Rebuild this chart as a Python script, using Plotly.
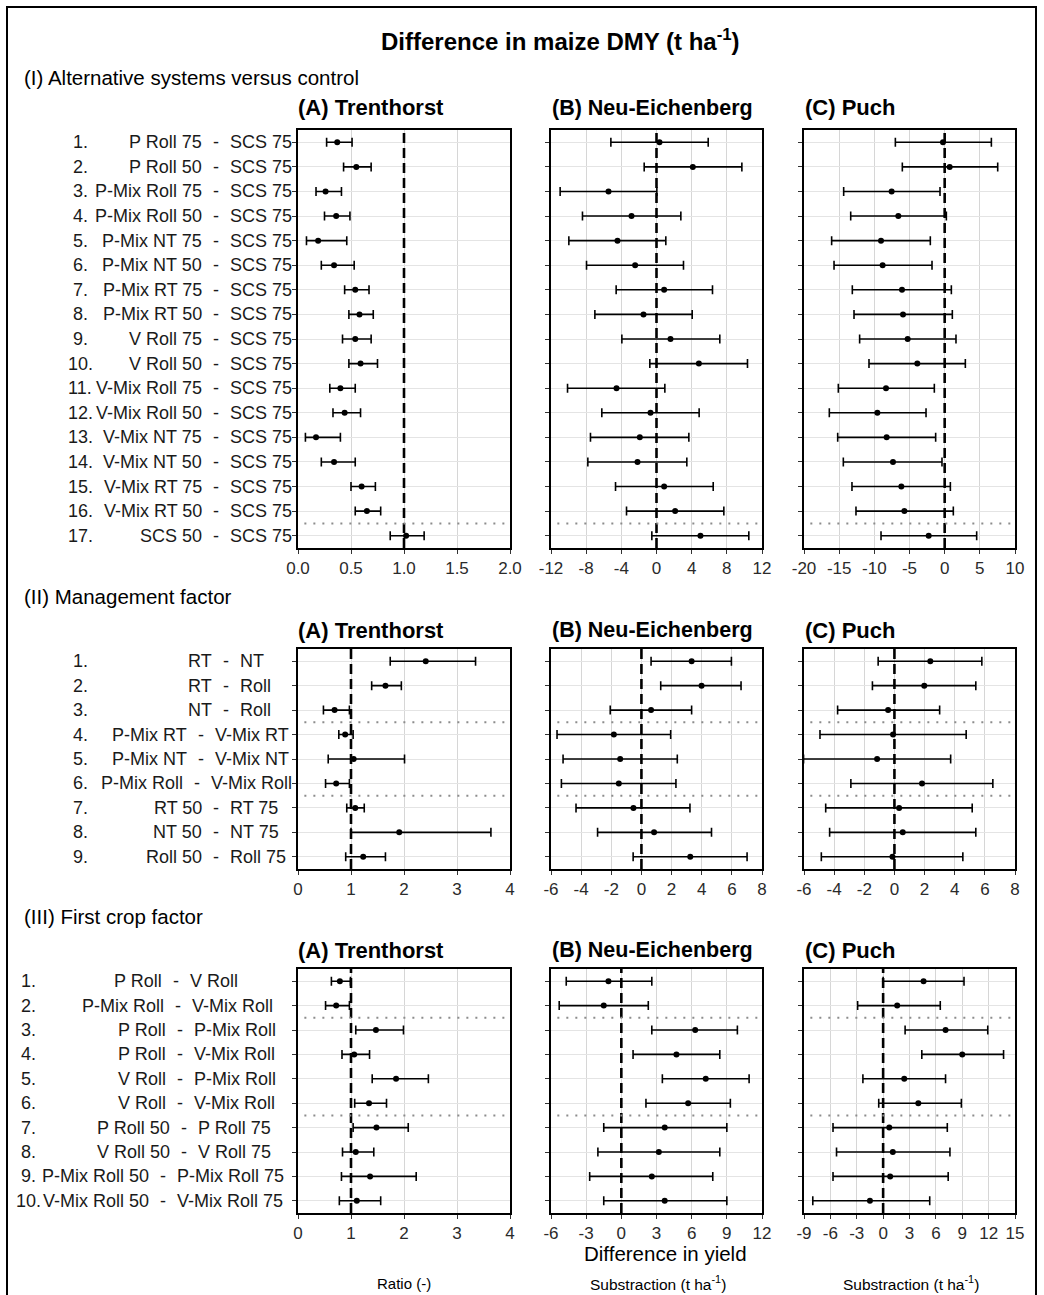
import plotly.graph_objects as go

W, H = 1044, 1295

# ---------------- data ----------------
# Section I: Alternative systems versus control
s1_left = ["P Roll 75", "P Roll 50", "P-Mix Roll 75", "P-Mix Roll 50", "P-Mix NT 75",
           "P-Mix NT 50", "P-Mix RT 75", "P-Mix RT 50", "V Roll 75", "V Roll 50",
           "V-Mix Roll 75", "V-Mix Roll 50", "V-Mix NT 75", "V-Mix NT 50", "V-Mix RT 75",
           "V-Mix RT 50", "SCS 50"]
s1_right = ["SCS 75"] * 17

IA_mean = [0.37, 0.55, 0.26, 0.36, 0.19, 0.34, 0.54, 0.58, 0.54, 0.59, 0.40, 0.44, 0.17, 0.34, 0.60, 0.65, 1.02]
IA_lo = [0.27, 0.43, 0.17, 0.25, 0.08, 0.22, 0.44, 0.48, 0.42, 0.48, 0.30, 0.33, 0.07, 0.22, 0.50, 0.54, 0.87]
IA_hi = [0.51, 0.69, 0.41, 0.49, 0.46, 0.53, 0.67, 0.71, 0.69, 0.75, 0.54, 0.59, 0.40, 0.54, 0.73, 0.78, 1.19]

IB_mean = [0.34, 4.13, -5.46, -2.84, -4.44, -2.43, 0.87, -1.48, 1.59, 4.82, -4.55, -0.68, -1.90, -2.16, 0.87, 2.12, 5.00]
IB_lo = [-5.19, -1.40, -10.96, -8.42, -9.97, -7.96, -4.59, -7.01, -3.94, -0.76, -10.12, -6.22, -7.51, -7.81, -4.66, -3.41, -0.53]
IB_hi = [5.88, 9.71, 0.04, 2.77, 1.06, 3.07, 6.37, 4.06, 7.20, 10.35, 0.95, 4.85, 3.68, 3.45, 6.45, 7.66, 10.50]

IC_mean = [-0.24, 0.71, -7.54, -6.59, -9.05, -8.82, -6.07, -5.92, -5.26, -3.89, -8.34, -9.57, -8.25, -7.35, -6.16, -5.73, -2.27]
IC_lo = [-7.01, -6.02, -14.36, -13.36, -16.07, -15.73, -13.13, -12.89, -12.09, -10.76, -15.12, -16.40, -15.21, -14.41, -13.18, -12.61, -9.05]
IC_hi = [6.64, 7.54, -0.66, 0.24, -2.04, -1.80, 0.95, 1.09, 1.61, 2.94, -1.47, -2.65, -1.28, -0.38, 0.81, 1.23, 4.55]

# Section II: Management factor
s2_left = ["RT", "RT", "NT", "P-Mix RT", "P-Mix NT", "P-Mix Roll", "RT 50", "NT 50", "Roll 50"]
s2_right = ["NT", "Roll", "Roll", "V-Mix RT", "V-Mix NT", "V-Mix Roll", "RT 75", "NT 75", "Roll 75"]

IIA_mean = [2.41, 1.65, 0.69, 0.89, 1.05, 0.72, 1.08, 1.91, 1.23]
IIA_lo = [1.74, 1.39, 0.48, 0.77, 0.57, 0.52, 0.92, 1.00, 0.90]
IIA_hi = [3.35, 1.95, 0.97, 1.04, 2.01, 0.97, 1.25, 3.64, 1.65]

IIB_mean = [3.33, 3.99, 0.64, -1.83, -1.41, -1.50, -0.53, 0.84, 3.24]
IIB_lo = [0.64, 1.28, -2.07, -5.60, -5.20, -5.31, -4.34, -2.91, -0.55]
IIB_hi = [5.97, 6.61, 3.33, 1.94, 2.38, 2.29, 3.22, 4.65, 7.01]

IIC_mean = [2.38, 1.98, -0.42, -0.09, -1.15, 1.83, 0.31, 0.55, -0.13]
IIC_lo = [-1.08, -1.46, -3.77, -4.94, -6.03, -2.89, -4.56, -4.30, -4.85]
IIC_hi = [5.80, 5.40, 3.00, 4.76, 3.73, 6.53, 5.16, 5.40, 4.54]

# Section III: First crop factor
s3_left = ["P Roll", "P-Mix Roll", "P Roll", "P Roll", "V Roll", "V Roll",
           "P Roll 50", "V Roll 50", "P-Mix Roll 50", "V-Mix Roll 50"]
s3_right = ["V Roll", "V-Mix Roll", "P-Mix Roll", "V-Mix Roll", "P-Mix Roll", "V-Mix Roll",
            "P Roll 75", "V Roll 75", "P-Mix Roll 75", "V-Mix Roll 75"]

IIIA_mean = [0.79, 0.72, 1.47, 1.06, 1.85, 1.34, 1.48, 1.09, 1.36, 1.11]
IIIA_lo = [0.63, 0.52, 1.09, 0.83, 1.40, 1.07, 1.04, 0.84, 0.82, 0.78]
IIIA_hi = [0.99, 0.97, 1.99, 1.35, 2.46, 1.67, 2.08, 1.43, 2.23, 1.56]

IIIB_mean = [-1.1, -1.5, 6.3, 4.7, 7.2, 5.7, 3.7, 3.2, 2.6, 3.7]
IIIB_lo = [-4.7, -5.3, 2.6, 1.0, 3.5, 2.1, -1.5, -2.0, -2.7, -1.5]
IIIB_hi = [2.6, 2.3, 9.9, 8.4, 10.9, 9.3, 9.0, 8.4, 7.8, 9.0]

IIIC_mean = [4.6, 1.6, 7.1, 9.0, 2.4, 4.0, 0.7, 1.1, 0.8, -1.5]
IIIC_lo = [0.0, -2.9, 2.5, 4.4, -2.3, -0.5, -5.7, -5.3, -5.7, -8.0]
IIIC_hi = [9.2, 6.5, 11.9, 13.7, 7.1, 8.9, 7.3, 7.6, 7.4, 5.3]

# axis ticks
IA_ticks = [0, 0.5, 1.0, 1.5, 2.0]
IA_text = ["0.0", "0.5", "1.0", "1.5", "2.0"]
IB_ticks = [-12, -8, -4, 0, 4, 8, 12]
IC_ticks = [-20, -15, -10, -5, 0, 5, 10]
IIA_ticks = [0, 1, 2, 3, 4]
IIB_ticks = [-6, -4, -2, 0, 2, 4, 6, 8]
IIC_ticks = [-6, -4, -2, 0, 2, 4, 6, 8]
IIIA_ticks = [0, 1, 2, 3, 4]
IIIB_ticks = [-6, -3, 0, 3, 6, 9, 12]
IIIC_ticks = [-9, -6, -3, 0, 3, 6, 9, 12, 15]

# ---------------- layout geometry (pixels) ----------------
panel_x = [(298, 510), (551, 762), (804, 1015)]
section_y = [(130, 548), (649, 869), (969, 1213)]

FONT = "Liberation Sans, Arial, sans-serif"
TXT = "#1a1a1a"
GRID = "#d6d6d6"

fig = go.Figure()

panels = [
    (0, 0, IA_mean, IA_lo, IA_hi, IA_ticks, IA_text, 1.0),
    (0, 1, IB_mean, IB_lo, IB_hi, IB_ticks, None, 0.0),
    (0, 2, IC_mean, IC_lo, IC_hi, IC_ticks, None, 0.0),
    (1, 0, IIA_mean, IIA_lo, IIA_hi, IIA_ticks, None, 1.0),
    (1, 1, IIB_mean, IIB_lo, IIB_hi, IIB_ticks, None, 0.0),
    (1, 2, IIC_mean, IIC_lo, IIC_hi, IIC_ticks, None, 0.0),
    (2, 0, IIIA_mean, IIIA_lo, IIIA_hi, IIIA_ticks, None, 1.0),
    (2, 1, IIIB_mean, IIIB_lo, IIIB_hi, IIIB_ticks, None, 0.0),
    (2, 2, IIIC_mean, IIIC_lo, IIIC_hi, IIIC_ticks, None, 0.0),
]

separators = {0: [16.5], 1: [3.5, 6.5], 2: [2.5, 6.5]}

shapes = []
annotations = []

for k, (s, p, mean, lo, hi, ticks, ttext, ref) in enumerate(panels, start=1):
    n = len(mean)
    rows = list(range(1, n + 1))
    xa = "x" if k == 1 else f"x{k}"
    ya = "y" if k == 1 else f"y{k}"
    fig.add_trace(go.Scatter(
        x=mean, y=rows, mode="markers", xaxis=xa, yaxis=ya,
        marker=dict(color="black", size=6),
        error_x=dict(type="data", symmetric=False,
                     array=[h - m for h, m in zip(hi, mean)],
                     arrayminus=[m - l for m, l in zip(mean, lo)],
                     color="black", thickness=1.6, width=4.5),
        showlegend=False, hoverinfo="skip"))
    x0, x1 = panel_x[p]
    y0, y1 = section_y[s]
    if ttext is None:
        ttext = [str(t) for t in ticks]
    xkey = "xaxis" if k == 1 else f"xaxis{k}"
    ykey = "yaxis" if k == 1 else f"yaxis{k}"
    fig.layout[xkey] = dict(
        domain=[x0 / W, x1 / W], anchor=ya, range=[ticks[0], ticks[-1]],
        tickvals=ticks, ticktext=ttext, showgrid=True, gridcolor=GRID, gridwidth=1,
        zeroline=False, showline=True, linecolor="black", linewidth=1.6, mirror=True,
        ticks="outside", ticklen=4, tickcolor="#333", tickwidth=1, automargin=False,
        tickfont=dict(family=FONT, size=17, color="#2a2a2a"), fixedrange=True)
    fig.layout[ykey] = dict(
        domain=[1 - y1 / H, 1 - y0 / H], anchor=xa, range=[n + 0.5, 0.5],
        tickvals=rows, showticklabels=False, showgrid=True, gridcolor="#e4e4e4", gridwidth=1,
        zeroline=False, showline=True, linecolor="black", linewidth=1.6, mirror=True,
        ticks="outside", ticklen=4, tickcolor="#333", tickwidth=1, automargin=False,
        fixedrange=True)
    shapes.append(dict(type="line", xref=xa, yref=f"{ya} domain", x0=ref, x1=ref, y0=0, y1=1,
                       line=dict(color="black", width=2.6, dash="10px,5px"), layer="above"))
    for sep in separators[s]:
        shapes.append(dict(type="line", xref=f"{xa} domain", yref=ya, x0=0.03, x1=0.98,
                           y0=sep, y1=sep, line=dict(color="#8c8c8c", width=2, dash="2px,7px"),
                           layer="above"))

# ---------------- row labels ----------------
# per-row x position (px) of the "-" separator in each section
s1_dash = [216] * 17
s2_dash = [226, 226, 226, 201, 201, 197, 216, 216, 216]
s3_dash = [176, 178, 180, 180, 180, 180, 184, 184, 163, 163]

label_cfg = [
    (s1_left, s1_right, s1_dash, 80, "y"),
    (s2_left, s2_right, s2_dash, 80, "y4"),
    (s3_left, s3_right, s3_dash, 28, "y7"),
]
LBL = dict(family=FONT, size=18, color=TXT)
for left, right, dashes, nx, yref in label_cfg:
    for i, (a, b, dx) in enumerate(zip(left, right, dashes), start=1):
        annotations.append(dict(x=nx / W, y=i, xref="paper", yref=yref, text=f"{i}.",
                                showarrow=False, xanchor="center", yanchor="middle", font=LBL))
        annotations.append(dict(x=(dx - 12) / W, y=i, xref="paper", yref=yref, text=a,
                                showarrow=False, xanchor="right", yanchor="middle", font=LBL))
        annotations.append(dict(x=dx / W, y=i, xref="paper", yref=yref, text="-",
                                showarrow=False, xanchor="center", yanchor="middle", font=LBL))
        annotations.append(dict(x=(dx + 12) / W, y=i, xref="paper", yref=yref, text=b,
                                showarrow=False, xanchor="left", yanchor="middle", font=LBL))

def ptext(x, y, text, size, bold=False, anchor="left"):
    annotations.append(dict(x=x / W, y=1 - y / H, xref="paper", yref="paper",
                            text=f"<b>{text}</b>" if bold else text, showarrow=False,
                            xanchor=anchor, yanchor="middle",
                            font=dict(family=FONT, size=size, color="black")))

ptext(560, 40, "Difference in maize DMY (t ha<sup>-1</sup>)", 24, bold=True, anchor="center")
ptext(22, 77, "(I) Alternative systems versus control", 20.5)
ptext(22, 597, "(II) Management factor", 20.5)
ptext(22, 916, "(III) First crop factor", 20.5)
for yy in (108, 630, 950):
    ptext(296, yy, "(A) Trenthorst", 22, bold=True)
    ptext(550, yy, "(B) Neu-Eichenberg", 21.5, bold=True)
    ptext(803, yy, "(C) Puch", 22, bold=True)
ptext(665, 1253, "Difference in yield", 20.5, anchor="center")
ptext(404, 1283, "Ratio (-)", 15, anchor="center")
ptext(658, 1283, "Substraction (t ha<sup>-1</sup>)", 15.5, anchor="center")
ptext(911, 1283, "Substraction (t ha<sup>-1</sup>)", 15.5, anchor="center")

# outer frame
shapes.append(dict(type="rect", xref="paper", yref="paper", x0=7 / W, x1=1036 / W,
                   y0=-0.02, y1=1 - 7 / H, line=dict(color="black", width=2), layer="below"))

fig.update_layout(width=W, height=H, autosize=False, margin=dict(l=0, r=0, t=0, b=0, pad=0),
                  paper_bgcolor="white", plot_bgcolor="white",
                  shapes=shapes, annotations=annotations, showlegend=False)

fig.write_html("out.html",
               config={"displayModeBar": False, "responsive": False},
               post_script="document.body.style.margin='0px';document.body.style.overflow='hidden';")
